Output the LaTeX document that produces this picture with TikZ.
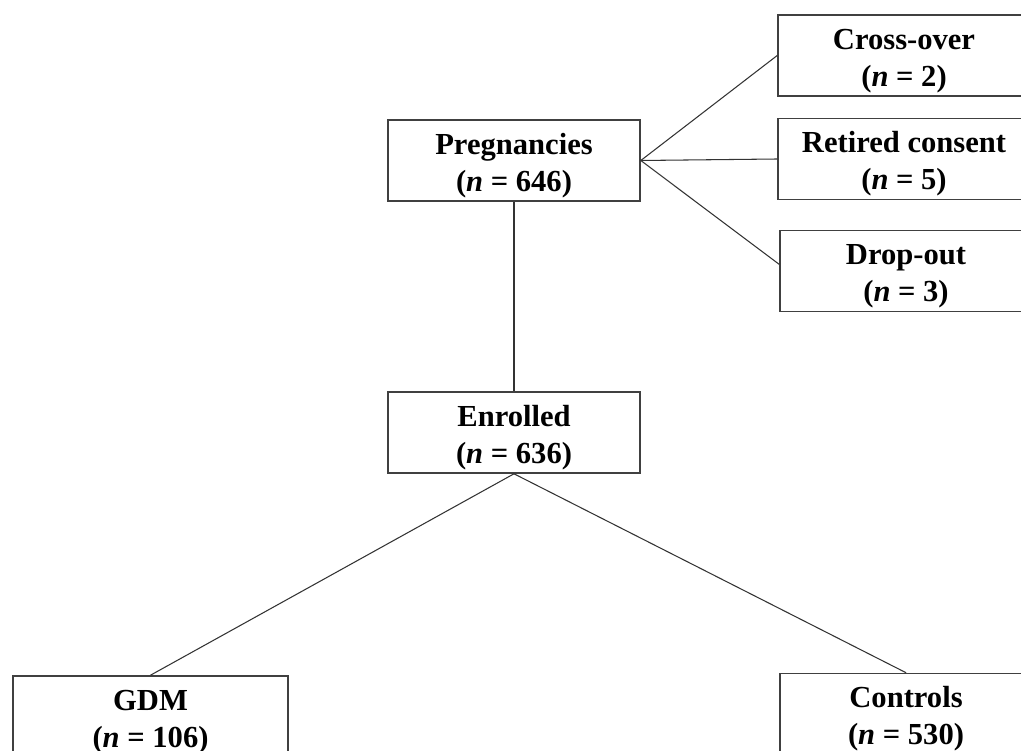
\documentclass[tikz,border=0pt]{standalone}
\usepackage{fontspec}
\setmainfont{Liberation Serif}
\usepackage{tikz}

\newcommand{\topstrut}{\rule{0pt}{17.5pt}}

\tikzset{
  box/.style={draw=black!75,line width=0.9pt,fill=white,minimum width=5.04cm,minimum height=1.62cm,
    align=center,inner sep=0pt,font=\fontsize{17.4}{21}\selectfont\bfseries},
  link/.style={draw=black!80,line width=0.6pt}
}

\begin{document}
\begin{tikzpicture}
\useasboundingbox (0,0) rectangle (20.42,-15.02);
%
\node [box] (preg) at (10.28,-3.21) {\topstrut Pregnancies\\(\textit{n} = 646)};
\node [box] (enrol) at (10.28,-8.65) {\topstrut Enrolled\\(\textit{n} = 636)};
%
\node [box] (cross) at (18.08,-1.11) {\topstrut Cross-over\\(\textit{n} = 2)};
\node [box] (retired) at (18.08,-3.18) {\topstrut Retired consent\\(\textit{n} = 5)};
\node [box] (drop) at (18.12,-5.42) {\topstrut Drop-out\\(\textit{n} = 3)};
%
\node [box,minimum width=5.5cm] (gdm) at (3.01,-14.33) {\topstrut GDM\\(\textit{n} = 106)};
\node [box] (ctrl) at (18.12,-14.28) {\topstrut Controls\\(\textit{n} = 530)};
%
\path[link] (preg.south) -- (enrol.north);
\path[link] (preg.east) -- (cross.west);
\path[link] (preg.east) -- (retired.west);
\path[link] (preg.east) -- (drop.177);
%
\path[link] (enrol.south) -- (gdm.north);
\path[link] (enrol.south) -- (ctrl.north);
\end{tikzpicture}
\end{document}
